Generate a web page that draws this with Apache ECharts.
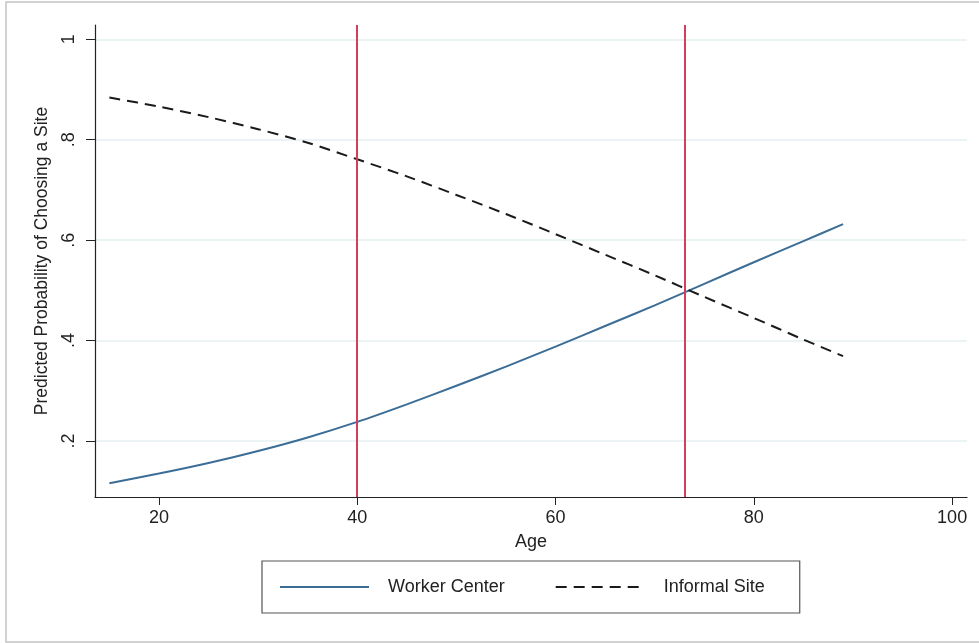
<!DOCTYPE html>
<html>
<head>
<meta charset="utf-8">
<script src="https://cdn.jsdelivr.net/npm/echarts@6/dist/echarts.min.js"></script>
<style>
html,body{margin:0;padding:0;background:#fff;}
#chart{width:979px;height:643px;}
</style>
</head>
<body>
<div id="chart"></div>
<script>
var ages = [15, 20, 25, 30, 35, 40, 45, 50, 55, 60, 65, 70, 75, 80, 85, 89];
var workerCenter = [0.116, 0.135, 0.156, 0.180, 0.207, 0.238, 0.273, 0.310, 0.348, 0.388, 0.429, 0.470, 0.513, 0.556, 0.598, 0.632];
var informalSite = [0.884, 0.866, 0.845, 0.821, 0.794, 0.761, 0.727, 0.690, 0.652, 0.612, 0.571, 0.530, 0.487, 0.445, 0.402, 0.369];
var refAges = [40, 73];
var yTicks = [0.2, 0.4, 0.6, 0.8, 1];
var yTickLabels = ['.2', '.4', '.6', '.8', '1'];
var xTicks = [20, 40, 60, 80, 100];

var font = 'Liberation Sans, Arial, Helvetica, sans-serif';
var chart = echarts.init(document.getElementById('chart'), null, {renderer: 'canvas'});

function pairs(xs, ys) { return xs.map(function (x, i) { return [x, ys[i]]; }); }

var option = {
  backgroundColor: '#ffffff',
  animation: false,
  graphic: [{
    type: 'rect',
    shape: {x: 6, y: 2, width: 980, height: 640},
    style: {fill: 'none', stroke: '#c4c4c4', lineWidth: 1.5},
    silent: true, z: -1
  }],
  grid: {left: 95, right: 12, top: 25, bottom: 146, containLabel: false},
  xAxis: {
    type: 'value',
    min: 13.55,
    max: 101.5,
    name: 'Age',
    nameLocation: 'middle',
    nameGap: 36,
    nameTextStyle: {fontFamily: font, fontSize: 18, color: '#222'},
    axisLine: {onZero: false, lineStyle: {color: '#222', width: 1.2}},
    axisTick: {show: true, length: 8, lineStyle: {color: '#222'}, customValues: xTicks},
    axisLabel: {fontFamily: font, fontSize: 18, color: '#222', margin: 12, customValues: xTicks,
      formatter: function (v) { return String(v); }},
    splitLine: {show: false}
  },
  yAxis: {
    type: 'value',
    min: 0.0884,
    max: 1.0285,
    name: 'Predicted Probability of Choosing a Site',
    nameLocation: 'middle',
    nameGap: 44,
    nameRotate: 90,
    nameTextStyle: {fontFamily: font, fontSize: 17.5, color: '#222'},
    axisLine: {show: true, lineStyle: {color: '#222', width: 1.2}},
    axisTick: {show: true, length: 9, lineStyle: {color: '#222'}, customValues: yTicks},
    axisLabel: {fontFamily: font, fontSize: 18, color: '#222', margin: 17, rotate: 90,
      customValues: yTicks,
      formatter: function (v) {
        for (var i = 0; i < yTicks.length; i++) { if (Math.abs(yTicks[i] - v) < 1e-6) return yTickLabels[i]; }
        return '';
      }},
    splitLine: {show: true, lineStyle: {color: '#e6eff0', width: 1.5}, customValues: yTicks}
  },
  legend: {
    left: 262,
    top: 561,
    padding: [17, 35, 17, 17],
    borderColor: '#555',
    borderWidth: 1.2,
    backgroundColor: '#fff',
    itemWidth: 89,
    itemHeight: 18,
    itemGap: 50,
    itemStyle: {opacity: 0},
    textStyle: {fontFamily: font, fontSize: 18, color: '#222', padding: [0, 0, 0, 14]},
    data: [{name: 'Worker Center'}, {name: 'Informal Site'}]
  },
  series: [
    {
      name: 'Worker Center',
      type: 'line',
      data: pairs(ages, workerCenter),
      smooth: 0.3,
      symbol: 'none',
      lineStyle: {color: '#3b6d96', width: 2},
      itemStyle: {color: '#3b6d96'},
      z: 3
    },
    {
      name: 'Informal Site',
      type: 'line',
      data: pairs(ages, informalSite),
      smooth: 0.3,
      symbol: 'none',
      lineStyle: {color: '#1a1a1a', width: 2, type: [11, 7]},
      itemStyle: {color: '#1a1a1a'},
      z: 3
    },
    {
      name: 'ref',
      type: 'line',
      data: [],
      symbol: 'none',
      markLine: {
        silent: true,
        symbol: 'none',
        label: {show: false},
        lineStyle: {color: '#d43d5c', width: 2, type: 'solid'},
        data: refAges.map(function (a) { return {xAxis: a}; })
      },
      z: 2
    }
  ]
};
chart.setOption(option);
</script>
</body>
</html>
